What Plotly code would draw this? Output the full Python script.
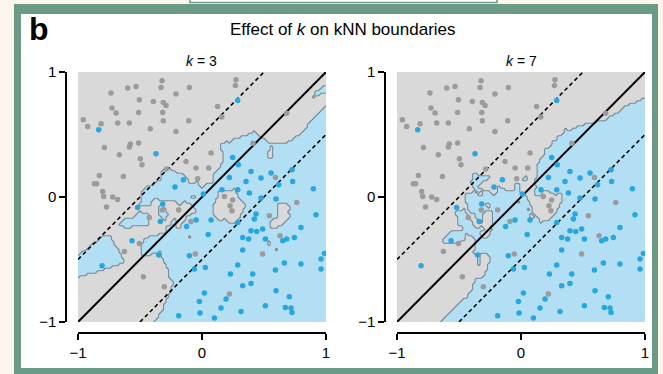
import numpy as np
import plotly.graph_objects as go

# ---------------- data ----------------
GRAY_X = [0.274, 0.269, -0.322, -0.330, -0.532, -0.599, -0.102, -0.734, -0.210, -0.505,
          -0.392, -0.312, -0.290, 0.126, 0.160, -0.726, -0.693, -0.511, -0.317, -0.107,
          -0.312, -0.957, -0.922, -0.814, -0.680, -0.586, -0.417, -0.210, -0.578, -0.586,
          -0.511, -0.787, -0.667, -0.497, -0.484, 0.073, -0.129, -0.048, 0.054, -0.285,
          -0.634, -0.828, -0.868, -0.850, -0.035, -0.801, -0.793, -0.720, -0.680, -0.770,
          -0.188, -0.425, -0.089, 0.180, 0.247, 0.226, 0.242, 0.764, 0.543, 0.629,
          -0.505, -0.626, -0.054, 0.489, -0.473, -0.304, 0.221, 0.592, 0.683, 0.411,
          -0.320]
GRAY_Y = [0.939, 0.893, 0.931, 0.877, 0.885, 0.872, 0.877, 0.832, 0.824, 0.779,
          0.765, 0.757, 0.733, 0.725, 0.640, 0.712, 0.672, 0.677, 0.677, 0.611,
          0.611, 0.619, 0.565, 0.587, 0.592, 0.592, 0.547, 0.525, 0.424, 0.400,
          0.432, 0.397, 0.339, 0.307, 0.259, 0.352, 0.285, 0.232, 0.232, 0.224,
          0.165, 0.173, 0.107, 0.107, 0.147, 0.045, 0.005, 0.000, -0.020, -0.080,
          -0.104, -0.163, -0.195, 0.005, -0.024, -0.069, -0.109, -0.043, -0.149, -0.309,
          -0.371, -0.435, -0.456, -0.456, -0.637, -0.717, -0.776, 0.157, 0.670, 0.430,
          -0.104]

BLUE_X = [0.288, -0.833, -0.371, -0.150, -0.218, 0.011, 0.247, 0.293, 0.221, 0.395,
          0.476, 0.557, 0.726, 0.731, 0.618, 0.355, 0.898, 0.382, 0.476, 0.288,
          0.161, -0.519, -0.317, -0.336, -0.124, -0.048, 0.073, 0.597, 0.436, 0.422,
          0.919, 0.798, 0.288, 0.395, 0.441, 0.489, 0.328, 0.376, 0.511, 0.651,
          0.683, 0.745, -0.564, -0.349, -0.102, 0.328, 0.987, 0.960, 0.664, 0.798,
          0.960, 0.592, 0.288, -0.062, 0.027, -0.806, 0.229, 0.409, 0.328, 0.395,
          0.597, 0.019, 0.194, 0.704, -0.021, 0.511, 0.153, 0.672, 0.718, 0.726,
          -0.016, 0.315, -0.188, 0.100, 0.050]
BLUE_Y = [0.773, 0.539, 0.347, 0.139, 0.080, 0.024, 0.317, 0.259, 0.157, 0.205,
          0.152, 0.192, 0.219, 0.125, 0.099, 0.125, 0.067, 0.032, -0.008, 0.059,
          0.059, -0.083, -0.056, -0.195, -0.235, -0.184, -0.184, -0.016, -0.136, -0.176,
          -0.141, -0.243, -0.203, -0.269, -0.275, -0.256, -0.323, -0.336, -0.336, -0.349,
          -0.336, -0.323, -0.349, -0.464, -0.469, -0.424, -0.451, -0.496, -0.528, -0.536,
          -0.576, -0.584, -0.544, -0.576, -0.563, -0.549, -0.616, -0.616, -0.709, -0.691,
          -0.749, -0.768, -0.816, -0.797, -0.835, -0.869, -0.888, -0.883, -0.888, -0.923,
          -0.928, -0.915, -0.949, -0.968, -0.300]

K_VALUES = [3, 7]
PANEL_TITLES = ["<i>k</i> = 3", "<i>k</i> = 7"]
LINE_OFFSETS = [0.5, 0.0, -0.5]
TICKS = [-1, 0, 1]
TITLE = "Effect of <i>k</i> on kNN boundaries"
PANEL_LETTER = "b"

# ---------------- styling ----------------
W, H = 663, 374
FONT = "Liberation Sans, Arial, Helvetica, sans-serif"
C_GRAY_REG = "#d9d9d9"
C_BLUE_REG = "#b2dff3"
C_GRAY_PT = "#9b9b9b"
C_BLUE_PT = "#27a6df"
C_OUTLINE = "#7a8a94"
C_FRAME = "#6b9a87"


def px_x(p):
    return p / W


def px_y(p):
    return 1 - p / H


# ---------------- kNN decision regions ----------------
X = np.array(GRAY_X + BLUE_X)
Y = np.array(GRAY_Y + BLUE_Y)
LAB = np.array([0] * len(GRAY_X) + [1] * len(BLUE_X))
grid = np.linspace(-1, 1, 101)
GX, GY = np.meshgrid(grid, grid)
D = (GX[..., None] - X) ** 2 + (GY[..., None] - Y) ** 2
order = np.argsort(D, axis=-1)


def knn_z(k):
    return (LAB[order[..., :k]].mean(axis=-1) > 0.5).astype(float)


fig = go.Figure()

panels = [
    dict(xd=[px_x(78), px_x(326)], ylinepx=66, xa="x", ya="y"),
    dict(xd=[px_x(397), px_x(645)], ylinepx=385, xa="x2", ya="y2"),
]
ydom = [px_y(322), px_y(72)]

for k, pan in zip(K_VALUES, panels):
    z = knn_z(k)
    fig.add_trace(go.Heatmap(
        x=grid, y=grid, z=z, zmin=0, zmax=1,
        colorscale=[[0, C_GRAY_REG], [1, C_BLUE_REG]],
        showscale=False, hoverinfo="skip", xaxis=pan["xa"], yaxis=pan["ya"]))
    fig.add_trace(go.Contour(
        x=grid, y=grid, z=z,
        contours=dict(start=0.5, end=0.5, size=1, coloring="none"),
        line=dict(color=C_OUTLINE, width=1.1, smoothing=0),
        showscale=False, hoverinfo="skip", xaxis=pan["xa"], yaxis=pan["ya"]))
    for c in LINE_OFFSETS:
        x0, x1 = max(-1, -1 - c), min(1, 1 - c)
        fig.add_trace(go.Scatter(
            x=[x0, x1], y=[x0 + c, x1 + c], mode="lines",
            line=dict(color="black", width=2 if c == 0 else 1.6,
                      dash="solid" if c == 0 else "4px,3px"),
            hoverinfo="skip", showlegend=False, xaxis=pan["xa"], yaxis=pan["ya"]))
    fig.add_trace(go.Scatter(
        x=GRAY_X, y=GRAY_Y, mode="markers",
        marker=dict(color=C_GRAY_PT, size=5.5, line=dict(width=0)),
        showlegend=False, xaxis=pan["xa"], yaxis=pan["ya"]))
    fig.add_trace(go.Scatter(
        x=BLUE_X, y=BLUE_Y, mode="markers",
        marker=dict(color=C_BLUE_PT, size=5.5, line=dict(width=0)),
        showlegend=False, xaxis=pan["xa"], yaxis=pan["ya"]))

axis_common = dict(range=[-1, 1], tickvals=TICKS, showgrid=False, zeroline=False,
                   showline=True, linecolor="black", linewidth=1.5, automargin=False,
                   ticks="outside", ticklen=6, tickwidth=1.5, tickcolor="black",
                   tickfont=dict(family=FONT, size=15, color="black"))

xpos = px_y(333)
fig.update_layout(
    template="none",
    width=W, height=H, margin=dict(l=0, r=0, t=0, b=0, pad=0, autoexpand=False),
    paper_bgcolor="#fdf6ec", plot_bgcolor="rgba(0,0,0,0)",
    showlegend=False,
    xaxis=dict(domain=panels[0]["xd"], anchor="free", position=xpos, **axis_common),
    yaxis=dict(domain=ydom, anchor="free", position=px_x(panels[0]["ylinepx"]), **axis_common),
    xaxis2=dict(domain=panels[1]["xd"], anchor="free", position=xpos, **axis_common),
    yaxis2=dict(domain=ydom, anchor="free", position=px_x(panels[1]["ylinepx"]), **axis_common),
)

# frame
fig.add_shape(type="rect", xref="paper", yref="paper", layer="below",
              x0=px_x(14), x1=px_x(658), y0=px_y(376), y1=px_y(4),
              fillcolor=C_FRAME, line=dict(width=0))
fig.add_shape(type="rect", xref="paper", yref="paper", layer="below",
              x0=px_x(21), x1=px_x(652), y0=px_y(368), y1=px_y(14),
              fillcolor="white", line=dict(width=0))
fig.add_shape(type="rect", xref="paper", yref="paper", layer="below",
              x0=px_x(190), x1=px_x(497), y0=px_y(2.5), y1=px_y(-3),
              fillcolor="white", line=dict(width=1.5, color=C_FRAME))

fig.add_annotation(text=TITLE, xref="paper", yref="paper", x=px_x(343), y=px_y(30),
                   xanchor="center", yanchor="middle",
                   showarrow=False, font=dict(family=FONT, size=17, color="black"))
fig.add_annotation(text="<b>" + PANEL_LETTER + "</b>", xref="paper", yref="paper",
                   x=px_x(39), y=px_y(29), xanchor="center", yanchor="middle",
                   showarrow=False, font=dict(family=FONT, size=32, color="black"))
for t, pan in zip(PANEL_TITLES, panels):
    fig.add_annotation(text=t, xref="paper", yref="paper",
                       x=(pan["xd"][0] + pan["xd"][1]) / 2, y=px_y(61),
                       xanchor="center", yanchor="middle",
                       showarrow=False, font=dict(family=FONT, size=14, color="black"))

fig.write_html("out.html", config={"displayModeBar": False},
               post_script="document.body.style.margin='0px';")
